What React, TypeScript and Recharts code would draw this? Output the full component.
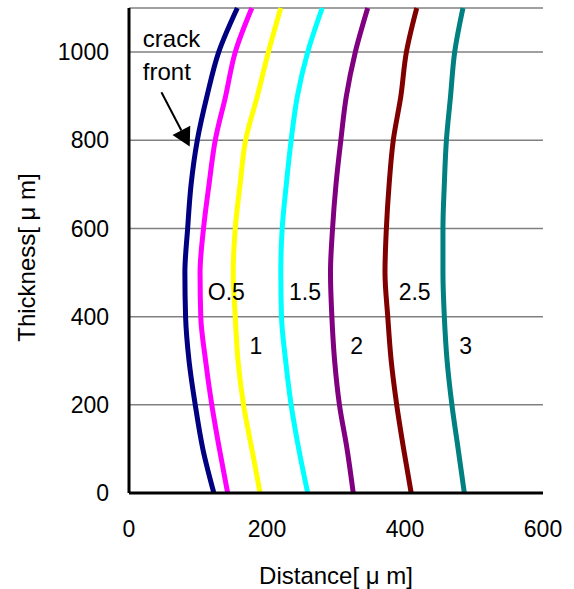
import React from 'react';
import { ComposedChart, Line, XAxis, YAxis, CartesianGrid, ReferenceDot, ReferenceLine } from 'recharts';

// thickness rows (um)
const thickness = [0, 100, 200, 300, 400, 500, 600, 700, 800, 900, 1000, 1100];

// crack front distance at each thickness, per cycle stage
const front0 = [123, 107, 96, 87, 82, 81, 85, 90, 99, 113, 130, 157];
const front05 = [143, 131, 120, 111, 104, 103, 108, 116, 125, 140, 154, 178];
const front1 = [190, 178, 166, 158, 154, 151, 154, 161, 169, 186, 202, 220];
const front15 = [259, 246, 235, 227, 221, 220, 222, 228, 235, 244, 259, 280];
const front2 = [325, 316, 305, 298, 294, 292, 295, 300, 307, 315, 328, 346];
const front25 = [409, 398, 388, 380, 375, 371, 373, 377, 383, 394, 402, 417];
const front3 = [486, 477, 468, 461, 457, 455, 455, 457, 460, 466, 472, 484];

const seriesKeys = ['f0', 'f05', 'f1', 'f15', 'f2', 'f25', 'f3'];
const seriesColors = ['#000080', '#FF00FF', '#FFFF00', '#00FFFF', '#800080', '#800000', '#008080'];

const xTicks = [0, 200, 400, 600];
const yTicks = [0, 200, 400, 600, 800, 1000];

// curve labels: text, distance, thickness
const curveLabels: [string, number, number][] = [
  ['O.5', 141, 457],
  ['1.5', 255, 457],
  ['2.5', 414, 457],
  ['1', 184, 334],
  ['2', 330, 334],
  ['3', 488, 334],
];

const data = thickness.map((t, i) => ({
  t,
  f0: front0[i],
  f05: front05[i],
  f1: front1[i],
  f15: front15[i],
  f2: front2[i],
  f25: front25[i],
  f3: front3[i],
}));

const FONT = '"Liberation Sans", Arial, sans-serif';

const Arrow = (props: any) => {
  const { x1, y1, x2, y2 } = props;
  const dx = x2 - x1;
  const dy = y2 - y1;
  const len = Math.sqrt(dx * dx + dy * dy);
  const ux = dx / len;
  const uy = dy / len;
  const head = 18;
  const half = 10;
  const bx = x2 - ux * head;
  const by = y2 - uy * head;
  return (
    <g>
      <line x1={x1} y1={y1} x2={bx} y2={by} stroke="#000" strokeWidth={2} />
      <polygon
        points={`${x2},${y2} ${bx - uy * half},${by + ux * half} ${bx + uy * half},${by - ux * half}`}
        fill="#000"
      />
    </g>
  );
};

const textShape = (label: string, anchor: string, size: number) => (p: any) => (
  <text x={p.cx} y={p.cy} textAnchor={anchor} dominantBaseline="central" fontSize={size} fontFamily={FONT} fill="#000">
    {label}
  </text>
);

export default function App() {
  return (
    <div style={{ position: 'absolute', left: 0, top: 0, width: 574, height: 589, background: '#fff' }}>
      <ComposedChart
        width={574}
        height={589}
        data={data}
        layout="vertical"
        margin={{ top: 8, right: 31, left: 0, bottom: 0 }}
      >
        <CartesianGrid vertical={false} stroke="#808080" strokeWidth={1.5} />
        <XAxis
          type="number"
          domain={[0, 600]}
          ticks={xTicks}
          height={96}
          axisLine={{ stroke: '#000', strokeWidth: 3 }}
          tickLine={false}
          tickSize={0}
          tickMargin={28}
          tick={{ fill: '#000', fontSize: 23, fontFamily: FONT }}
          label={{ value: 'Distance[ μ m]', position: 'insideBottom', offset: 5, fill: '#000', fontSize: 24, fontFamily: FONT }}
        />
        <XAxis xAxisId="top" type="number" domain={[0, 600]} orientation="top" height={0} tick={false} tickLine={false} axisLine={{ stroke: '#000', strokeWidth: 3 }} />
        <YAxis
          type="number"
          dataKey="t"
          domain={[0, 1100]}
          ticks={yTicks}
          reversed
          width={129}
          axisLine={{ stroke: '#000', strokeWidth: 3 }}
          tickLine={false}
          tickSize={0}
          tickMargin={20}
          tick={{ fill: '#000', fontSize: 23, fontFamily: FONT }}
          label={{ value: 'Thickness[ μ m]', angle: -90, position: 'insideLeft', offset: 26, dy: 7, fill: '#000', fontSize: 24, fontFamily: FONT, style: { textAnchor: 'middle' } }}
        />
        <YAxis yAxisId="right" type="number" domain={[0, 1100]} reversed orientation="right" width={0} tick={false} tickLine={false} axisLine={{ stroke: '#000', strokeWidth: 3 }} />
        {seriesKeys.map((k, i) => (
          <Line
            key={k}
            dataKey={k}
            type="monotone"
            stroke={seriesColors[i]}
            strokeWidth={5}
            dot={false}
            isAnimationActive={false}
          />
        ))}
        {curveLabels.map(([txt, x, y]) => (
          <ReferenceDot key={txt} x={x} y={y} r={0} ifOverflow="visible" shape={textShape(txt, 'middle', 23)} />
        ))}
        <ReferenceDot x={20} y={1030} r={0} ifOverflow="visible" shape={textShape('crack', 'start', 24)} />
        <ReferenceDot x={20} y={955} r={0} ifOverflow="visible" shape={textShape('front', 'start', 24)} />
        <ReferenceLine
          segment={[{ x: 47, y: 909 }, { x: 88, y: 786 }]}
          ifOverflow="visible"
          shape={Arrow}
        />
      </ComposedChart>
    </div>
  );
}
